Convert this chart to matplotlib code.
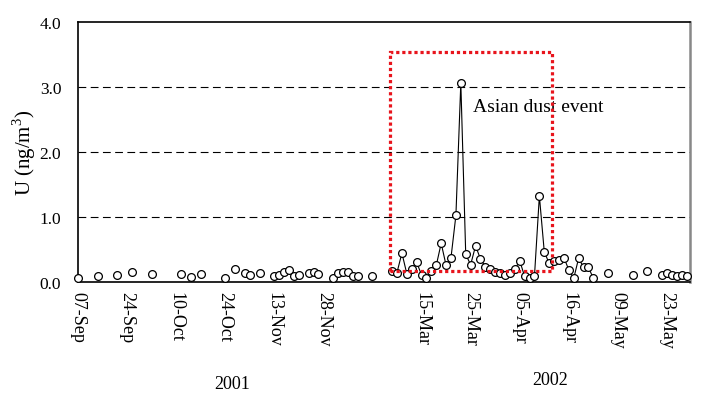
import numpy as np
import pandas as pd
import matplotlib
matplotlib.use("Agg")
import matplotlib.pyplot as plt
from matplotlib.patches import Rectangle

# Sample (category) positions and U concentrations
sample_2001 = [0, 4, 8, 11, 15, 21, 23, 25, 30, 32, 34, 35, 37, 40, 41, 42, 43,
               44, 45, 47, 48, 49, 52, 53, 54, 55, 56, 57, 60]
u_2001 = [0.06, 0.08, 0.10, 0.15, 0.11, 0.11, 0.07, 0.12, 0.05, 0.19, 0.14,
          0.10, 0.13, 0.08, 0.10, 0.15, 0.18, 0.09, 0.10, 0.14, 0.15, 0.12,
          0.05, 0.13, 0.15, 0.15, 0.09, 0.08, 0.08]

sample_2002 = list(range(64, 106)) + [108, 113, 116, 119, 120, 121, 122, 123, 124]
u_2002 = [0.16, 0.14, 0.44, 0.12, 0.20, 0.30, 0.10, 0.06, 0.16, 0.25, 0.59,
          0.25, 0.37, 1.02, 3.06, 0.42, 0.26, 0.55, 0.35, 0.23, 0.19, 0.15,
          0.13, 0.10, 0.14, 0.19, 0.32, 0.08, 0.06, 0.08, 1.32, 0.46, 0.28,
          0.32, 0.33, 0.37, 0.18, 0.05, 0.36, 0.22, 0.22, 0.05,
          0.14, 0.10, 0.16, 0.10, 0.14, 0.10, 0.08, 0.10, 0.08]

tick_pos = [0, 10, 20, 30, 40, 50, 60, 70, 80, 90, 100, 110, 120]
tick_labels = ["07-Sep", "24-Sep", "10-Oct", "24-Oct", "13-Nov", "28-Nov", "",
               "15-Mar", "25-Mar", "05-Apr", "16-Apr", "09-May", "23-May"]

# Dust event box (category range, U range)
box_x = [63.6, 96.5]
box_y = [0.16, 3.53]

# Build one series over all categories; gaps become NaN so the line breaks
s = pd.Series(u_2001 + u_2002, index=sample_2001 + sample_2002)
s = s.reindex(range(0, 125))

plt.rcParams["font.family"] = ["Liberation Serif", "DejaVu Serif"]
plt.rcParams["mathtext.fontset"] = "custom"
plt.rcParams["mathtext.rm"] = "Liberation Serif"

fig = plt.figure(figsize=(7.02, 4.02), dpi=100)
ax = fig.add_axes([0.111, 0.297, 0.872, 0.646])

for yv in [1.0, 2.0, 3.0]:
    ax.axhline(yv, color="black", lw=0.8, linestyle=(0, (7, 4)), zorder=1)

ax.plot(s.index, s.values, color="black", lw=0.8, marker="o", markersize=5.6,
        markerfacecolor="white", markeredgecolor="black", markeredgewidth=0.9,
        clip_on=False, zorder=3)

ax.add_patch(Rectangle((box_x[0], box_y[0]), box_x[1] - box_x[0], box_y[1] - box_y[0],
                       fill=False, edgecolor="#e8141c", lw=2.3,
                       linestyle=(0, (1, 0.9)), zorder=4))

ax.text(80.4, 2.7, "Asian dust event", fontsize=14, va="center", ha="left")

ax.set_xlim(0, 124.7)
ax.set_ylim(0, 4)
ax.set_yticks([0, 1, 2, 3, 4])
ax.set_yticklabels(["0.0", "1.0", "2.0", "3.0", "4.0"], fontsize=12.5)
ax.set_xticks(tick_pos)
ax.set_xticklabels(tick_labels, rotation=270, fontsize=13)
ax.tick_params(axis="y", length=0, pad=12)
ax.tick_params(axis="x", length=0, pad=7)
ax.set_ylabel("U (ng/m$^{\\mathrm{3}}$)", fontsize=15, labelpad=1)

for side in ["left", "bottom", "top"]:
    ax.spines[side].set_color("black")
    ax.spines[side].set_linewidth(1.2)
ax.spines["right"].set_color("#888888")
ax.spines["right"].set_linewidth(1.8)

fig.text(232 / 702, 1 - 385 / 402, "2001", fontsize=13, ha="center", va="center")
fig.text(550 / 702, 1 - 381 / 402, "2002", fontsize=13, ha="center", va="center")

plt.savefig("out.png", dpi=100)
plt.close()
